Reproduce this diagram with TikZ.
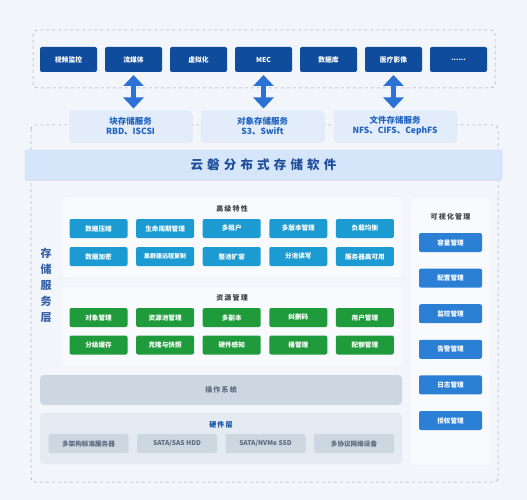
\documentclass[tikz,border=0pt]{standalone}
\usepackage{fontspec}
\setmainfont{Noto Sans CJK SC}
\usetikzlibrary{arrows.meta, positioning, shadows}

\definecolor{bgcol}{HTML}{F2F5FA}
\definecolor{navy}{HTML}{0F4C9C}
\definecolor{svcfill}{HTML}{E2ECFA}
\definecolor{svctext}{HTML}{1E63C0}
\definecolor{bannerfill}{HTML}{D5E5FA}
\definecolor{bannertext}{HTML}{1F4E9A}
\definecolor{panelfill}{HTML}{F8FAFD}
\definecolor{cyanbtn}{HTML}{1B9BD1}
\definecolor{greenbtn}{HTML}{1F9B3B}
\definecolor{graybar}{HTML}{CDD7E2}
\definecolor{graytext}{HTML}{5B6A7D}
\definecolor{hwfill}{HTML}{E4EAF2}
\definecolor{mgmtbtn}{HTML}{2B80D6}
\definecolor{dashcol}{HTML}{9AA8BD}
\definecolor{arrowcol}{HTML}{2A72D6}

\begin{document}
\begin{tikzpicture}[
        x = 1pt, y = -1pt,
        on grid,
        node distance = 65pt,
        every node/.style = {inner sep = 0pt, outer sep = 0pt},
        appbox/.style = {fill = navy, rounded corners = 2pt, minimum width = 57pt, minimum height = 25pt,
                         text = white, font = \fontsize{6.8}{7}\selectfont\bfseries},
        svcbox/.style = {fill = svcfill, rounded corners = 3pt, minimum width = 123pt, minimum height = 31pt,
                         text = svctext, font = \fontsize{8.5}{10}\selectfont\bfseries, align = center,
                         drop shadow = {opacity = 0.12, shadow xshift = 0.5pt, shadow yshift = -1pt}},
        featbox/.style = {fill = cyanbtn, rounded corners = 2pt, minimum width = 58pt, minimum height = 19pt,
                          text = white, font = \fontsize{6.6}{7}\selectfont\bfseries},
        resbox/.style = {featbox, fill = greenbtn},
        hwbox/.style = {fill = graybar, rounded corners = 2pt, minimum width = 80pt, minimum height = 19pt,
                        text = graytext, font = \fontsize{6.6}{7}\selectfont\bfseries},
        mgmtbox/.style = {fill = mgmtbtn, rounded corners = 2pt, minimum width = 63pt, minimum height = 19pt,
                          text = white, font = \fontsize{6.6}{7}\selectfont\bfseries},
        panel/.style = {fill = panelfill, rounded corners = 4pt},
        dashbox/.style = {draw = dashcol, dashed, rounded corners = 4pt, line width = 0.5pt},
        title/.style = {font = \fontsize{7}{8}\selectfont\bfseries},
        bothway/.style = {draw = arrowcol, line width = 5pt,
                          {Triangle[length = 11pt, width = 20pt]}-{Triangle[length = 11pt, width = 20pt]},
                          shorten <= 3pt, shorten >= 2pt}
    ]

    \useasboundingbox[fill = bgcol] (0,0) rectangle (527,500);

    % dashed frames
    \draw[dashbox] (33,30) rectangle (495,88);
    \draw[dashbox] (31,125) rectangle (498,482);

    % applications
    \node[appbox] (video) at (68.5,59.5) {视频监控};
    \node[appbox, right = of video] (stream) {流媒体};
    \node[appbox, right = of stream] (virt) {虚拟化};
    \node[appbox, right = of virt] (mec) {MEC};
    \node[appbox, right = of mec] (db) {数据库};
    \node[appbox, right = of db] (medical) {医疗影像};
    \node[appbox, right = of medical] (more) {......};

    % storage services
    \node[svcbox] (blk) at (130.5,126) {块存储服务\\RBD、ISCSI};
    \node[svcbox] (obj) at (262.5,126) {对象存储服务\\S3、Swift};
    \node[svcbox] (file) at (395,126) {文件存储服务\\NFS、CIFS、CephFS};

    \path[bothway] (stream.south) -- (stream.south |- blk.north);
    \path[bothway] (mec.south) -- (mec.south |- obj.north);
    \path[bothway] (medical.south) -- (medical.south |- file.north);

    % banner
    \node[fill = bannerfill, draw = bannerfill!80!blue!60, line width = 0.4pt, rounded corners = 2pt,
          minimum width = 477pt, minimum height = 30pt, text = bannertext,
          font = \fontsize{12.5}{14}\selectfont\bfseries,
          drop shadow = {opacity = 0.12, shadow xshift = 0pt, shadow yshift = -1pt}]
          (banner) at (263.5,165) {云\,\,磐\,\,分\,\,布\,\,式\,\,存\,\,储\,\,软\,\,件};

    \node[text = bannertext!90, font = \fontsize{11}{16}\selectfont\bfseries, align = center]
          (layer) at (46,285) {存\\储\\服\\务\\层};

    % advanced features
    \fill[panel] (62,197) rectangle (402,277);
    \node[title, text = black!75] (advtitle) at (232,209) {高\,级\,特\,性};
    \node[featbox] (compress) at (98.5,228.5) {数据压缩};
    \node[featbox, right = 66.6pt of compress] (lifecycle) {生命周期管理};
    \node[featbox, right = 66.6pt of lifecycle] (tenant) {多租户};
    \node[featbox, right = 66.6pt of tenant] (version) {多版本管理};
    \node[featbox, right = 66.6pt of version] (balance) {负载均衡};
    \node[featbox, below = 28pt of compress] (encrypt) {数据加密};
    \node[featbox, right = 66.6pt of encrypt] (replicate) {\fontsize{6}{7}\selectfont 集群建远程复制};
    \node[featbox, right = 66.6pt of replicate] (expand) {整池扩容};
    \node[featbox, right = 66.6pt of expand] (split) {分池读写};
    \node[featbox, right = 66.6pt of split] (ha) {服务器高可用};

    % resource management
    \fill[panel] (62,287) rectangle (402,366);
    \node[title, text = black!75] (restitle) at (232,298) {资\,源\,管\,理};
    \node[resbox] (objmgmt) at (98.5,317.5) {对象管理};
    \node[resbox, right = 66.6pt of objmgmt] (pool) {资源池管理};
    \node[resbox, right = 66.6pt of pool] (replica) {多副本};
    \node[resbox, right = 66.6pt of replica] (erasure) {纠删码};
    \node[resbox, right = 66.6pt of erasure] (user) {用户管理};
    \node[resbox, below = 27.5pt of objmgmt] (tier) {分级缓存};
    \node[resbox, right = 66.6pt of tier] (clone) {克隆与快照};
    \node[resbox, right = 66.6pt of clone] (hwaware) {硬件感知};
    \node[resbox, right = 66.6pt of hwaware] (bucket) {桶管理};
    \node[resbox, right = 66.6pt of bucket] (quota) {配额管理};

    % operating system
    \node[fill = graybar, rounded corners = 4pt, minimum width = 362pt, minimum height = 30pt,
          text = graytext, title] (os) at (221,390) {操\,作\,系\,统};

    % hardware
    \fill[hwfill] (40,413) [rounded corners = 4pt] rectangle (402,464);
    \node[title, text = navy] (hwtitle) at (221,425) {硬\,件\,层};
    \node[hwbox] (server) at (88.5,443.5) {多架构标准服务器};
    \node[hwbox, right = 88.5pt of server] (hdd) {SATA/SAS HDD};
    \node[hwbox, right = 88.5pt of hdd] (ssd) {SATA/NVMe SSD};
    \node[hwbox, right = 88.5pt of ssd] (net) {多协议网络设备};

    % visual management
    \fill[panel] (411,198) rectangle (490,465);
    \node[title, text = black!75] (vistitle) at (450.5,217) {可\,视\,化\,管\,理};
    \node[mgmtbox] (capacity) at (450.5,242.5) {容量管理};
    \node[mgmtbox, below = 35.6pt of capacity] (config) {配置管理};
    \node[mgmtbox, below = 35.6pt of config] (monitor) {监控管理};
    \node[mgmtbox, below = 35.6pt of monitor] (alarm) {告警管理};
    \node[mgmtbox, below = 35.6pt of alarm] (log) {日志管理};
    \node[mgmtbox, below = 35.6pt of log] (auth) {授权管理};

\end{tikzpicture}
\end{document}
